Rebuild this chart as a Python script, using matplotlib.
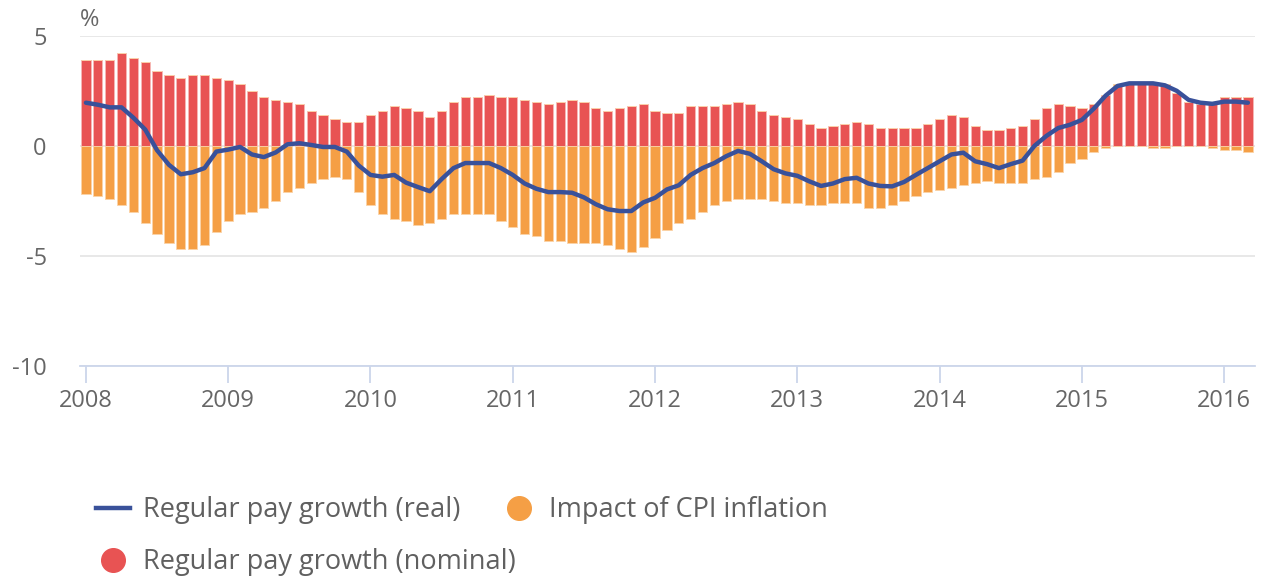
import matplotlib
matplotlib.use('Agg')
import matplotlib.pyplot as plt
from matplotlib.lines import Line2D
import numpy as np

plt.rcParams['font.family'] = ['Open Sans', 'DejaVu Sans']

# monthly, Jan 2008 .. Mar 2016
nominal = [3.9, 3.9, 3.9, 4.2, 4.0, 3.8, 3.4, 3.2, 3.1, 3.2, 3.2, 3.1,
           3.0, 2.8, 2.5, 2.2, 2.1, 2.0, 1.9, 1.6, 1.4, 1.2, 1.1, 1.1,
           1.4, 1.6, 1.8, 1.7, 1.6, 1.3, 1.6, 2.0, 2.2, 2.2, 2.3, 2.2,
           2.2, 2.1, 2.0, 1.9, 2.0, 2.1, 2.0, 1.7, 1.6, 1.7, 1.8, 1.9,
           1.6, 1.5, 1.5, 1.8, 1.8, 1.8, 1.9, 2.0, 1.9, 1.6, 1.4, 1.3,
           1.2, 1.0, 0.8, 0.9, 1.0, 1.1, 1.0, 0.8, 0.8, 0.8, 0.8, 1.0,
           1.2, 1.4, 1.3, 0.9, 0.7, 0.7, 0.8, 0.9, 1.2, 1.7, 1.9, 1.8,
           1.7, 1.9, 2.3, 2.7, 2.8, 2.8, 2.8, 2.8, 2.4, 2.0, 1.9, 1.9,
           2.2, 2.2, 2.2]

cpi_impact = [-2.2, -2.3, -2.4, -2.7, -3.0, -3.5, -4.0, -4.4, -4.7, -4.7, -4.5, -3.9,
              -3.4, -3.1, -3.0, -2.8, -2.5, -2.1, -1.9, -1.7, -1.5, -1.4, -1.5, -2.1,
              -2.7, -3.1, -3.3, -3.4, -3.6, -3.5, -3.3, -3.1, -3.1, -3.1, -3.1, -3.4,
              -3.7, -4.0, -4.1, -4.3, -4.3, -4.4, -4.4, -4.4, -4.5, -4.7, -4.8, -4.6,
              -4.2, -3.8, -3.5, -3.3, -3.0, -2.7, -2.5, -2.4, -2.4, -2.4, -2.5, -2.6,
              -2.6, -2.7, -2.7, -2.6, -2.6, -2.6, -2.8, -2.8, -2.7, -2.5, -2.3, -2.1,
              -2.0, -1.9, -1.8, -1.7, -1.6, -1.7, -1.7, -1.7, -1.5, -1.4, -1.2, -0.8,
              -0.6, -0.3, -0.1, 0.1, 0.0, 0.0, -0.1, -0.1, 0.0, 0.0, 0.0, -0.1,
              -0.2, -0.2, -0.3]

real = [1.96, 1.87, 1.75, 1.75, 1.28, 0.74, -0.2, -0.86, -1.29, -1.2, -1.01, -0.26,
        -0.17, -0.05, -0.39, -0.51, -0.3, 0.07, 0.12, 0.04, -0.05, -0.05, -0.26, -0.89,
        -1.32, -1.4, -1.32, -1.67, -1.87, -2.06, -1.51, -1.01, -0.78, -0.78, -0.78, -1.01,
        -1.32, -1.71, -1.95, -2.1, -2.1, -2.13, -2.34, -2.65, -2.88, -2.96, -2.96, -2.57,
        -2.36, -1.98, -1.79, -1.32, -1.01, -0.78, -0.47, -0.23, -0.36, -0.7, -1.06, -1.25,
        -1.36, -1.61, -1.82, -1.71, -1.51, -1.45, -1.71, -1.82, -1.84, -1.64, -1.32, -1.01,
        -0.7, -0.39, -0.31, -0.7, -0.83, -1.01, -0.83, -0.67, 0.0, 0.45, 0.81, 0.96,
        1.18, 1.69, 2.28, 2.72, 2.84, 2.84, 2.84, 2.75, 2.5, 2.09, 1.96, 1.91,
        2.01, 2.01, 1.96]

years = ['2008', '2009', '2010', '2011', '2012', '2013', '2014', '2015', '2016']

red = '#E85353'
orange = '#F59F45'
blue = '#39519A'
grey = '#666666'

W, H = 1264, 578
fig = plt.figure(figsize=(W / 100, H / 100), dpi=100)
ax = fig.add_axes([80 / W, 1 - 366 / H, (1255 - 80) / W, (366 - 35.8) / H])

x = np.arange(len(nominal))
nominal = np.array(nominal)
cpi_impact = np.array(cpi_impact)
neg = np.minimum(cpi_impact, 0)
pos = np.maximum(cpi_impact, 0)

ax.bar(x, nominal, width=0.78, color=red, edgecolor='#F6B8B6', linewidth=0.6, zorder=2)
ax.bar(x, neg, width=0.78, color=orange, edgecolor='#FBD3A8', linewidth=0.6, zorder=2)
ax.bar(x, pos, bottom=nominal, width=0.78, color=orange, edgecolor='#FBD3A8', linewidth=0.6, zorder=2)
ax.plot(x, real, color=blue, lw=3.2, solid_capstyle='round', solid_joinstyle='round', zorder=3)

ax.set_xlim(-0.5, 98.6)
ax.set_ylim(-10, 5)
ax.set_yticks([-10, -5, 0, 5])
ax.set_yticklabels(['-10', '-5', '0', '5'])
ax.set_xticks(np.arange(len(years)) * 12)
ax.set_xticklabels(years)

ax.grid(axis='y', color='#E6E6E6', lw=1.3, zorder=1)
ax.set_axisbelow(True)
for s in ['top', 'right', 'left']:
    ax.spines[s].set_visible(False)
ax.spines['bottom'].set_color('#CCD6EB')
ax.spines['bottom'].set_linewidth(1.3)
ax.tick_params(axis='y', length=0, pad=24, labelsize=17, labelcolor=grey)
ax.tick_params(axis='x', length=12.5, width=1.3, color='#CCD6EB', pad=4,
               labelsize=17, labelcolor=grey)

fig.text(80 / W, 1 - 20 / H, '%', fontsize=17, color=grey, va='center', ha='left')

h_real = Line2D([], [], color=blue, lw=3.2)
h_cpi = Line2D([], [], marker='o', ls='', color=orange, markersize=17)
h_nom = Line2D([], [], marker='o', ls='', color=red, markersize=17)

leg_kw = dict(loc='center left', frameon=False, fontsize=19.5, labelcolor='#606060',
              borderpad=0, borderaxespad=0, handlelength=1.25, handletextpad=0.48)
fig.legend([h_real, h_cpi], ['Regular pay growth (real)', 'Impact of CPI inflation'],
           ncol=2, bbox_to_anchor=(96 / W, 1 - 510 / H), columnspacing=1.55, **leg_kw)
fig.legend([h_nom], ['Regular pay growth (nominal)'],
           bbox_to_anchor=(96 / W, 1 - 562 / H), **leg_kw)

fig.savefig('out.png', dpi=100)
